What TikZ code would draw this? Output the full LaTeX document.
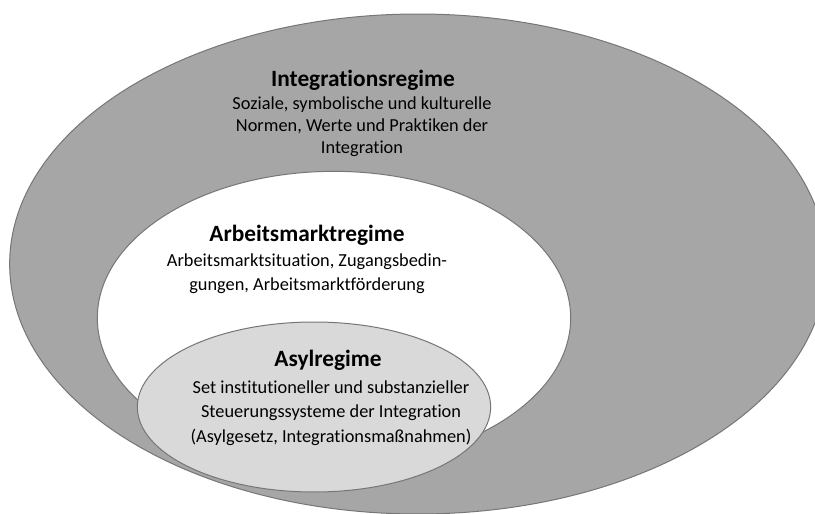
\documentclass[tikz,border=0pt]{standalone}
\usepackage{fontspec}
\setmainfont[Ligatures=NoCommon]{Carlito}
\usetikzlibrary{positioning, shapes.geometric}
\definecolor{regimegrey}{RGB}{166,166,166}
\definecolor{regimelight}{RGB}{217,217,217}
\definecolor{regimeedge}{RGB}{118,118,118}
\tikzset{
    regimeoval/.style={ellipse, draw=regimeedge, line width=0.6pt, inner sep=0pt},
    regimetitle/.style={font=\fontsize{14}{17}\selectfont\bfseries, align=center, inner sep=0pt},
    regimenote/.style={font=\fontsize{11}{13.5}\selectfont, align=center, inner sep=0pt}
}

\begin{document}
\begin{tikzpicture}[x=0.6pt,y=-0.6pt]
    \useasboundingbox (0,0) rectangle (815,514);
    \node[regimeoval, fill=regimegrey, minimum width=490pt, minimum height=300pt] (integoval) at (418,264) {};
    \node[regimeoval, fill=white, minimum width=284pt, minimum height=176pt] (arbeitoval) at (334,318) {};
    \node[regimeoval, fill=regimelight, minimum width=212pt, minimum height=102pt] (asyloval) at (314,407) {};
    % Integrationsregime
    \node[regimetitle] (integtitle) at (363,80) {Integrationsregime};
    \node[regimenote, font=\fontsize{11}{13.2}\selectfont] (integnote) at (362,127) {Soziale, symbolische und kulturelle\\Normen, Werte und Praktiken der\\Integration};
    % Arbeitsmarktregime
    \node[regimetitle] (arbeittitle) at (307,235) {Arbeitsmarktregime};
    \node[regimenote, font=\fontsize{11}{14.4}\selectfont] (arbeitnote) at (307,274) {Arbeitsmarktsituation, Zugangsbedin-\\gungen, Arbeitsmarktförderung};
    % Asylregime
    \node[regimetitle] (asyltitle) at (328,360) {Asylregime};
    \node[regimenote, font=\fontsize{11}{14.7}\selectfont] (asylnote) at (331,413) {Set institutioneller und substanzieller\\Steuerungssysteme der Integration\\(Asylgesetz, Integrationsmaßnahmen)};
\end{tikzpicture}
\end{document}
